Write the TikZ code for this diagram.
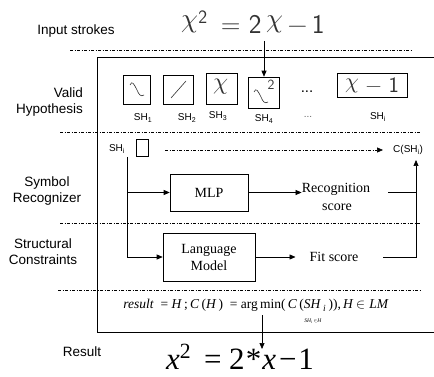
\documentclass[tikz,border=0pt]{standalone}
\usepackage{fontspec}
\usepackage{unicode-math}
\setmainfont{Liberation Serif}
\setsansfont{Liberation Sans}
\newfontfamily\handfont{Latin Modern Sans}
\newfontfamily\resfont{Liberation Serif}
\usetikzlibrary{arrows.meta}
\newcommand{\hchi}{\raisebox{0.19em}{$\chi$}}
\begin{document}
\begin{tikzpicture}[x=1pt,y=-1pt,
  dashdot/.style={line width=0.6pt, dash pattern=on 3pt off 1.5pt on 1pt off 1.5pt},
  arr/.style={-{Triangle[length=6pt,width=5pt]}},
  lbl/.style={font=\sffamily\fontsize{13.5}{16}\selectfont, align=center, inner sep=0pt},
  shlbl/.style={font=\sffamily\fontsize{10}{12}\selectfont, inner sep=0pt},
  shbox/.style={draw, line width=0.6pt, inner sep=0pt},
  hand/.style={text=black!80, inner sep=0pt},
  serifbox/.style={draw, line width=0.6pt, font=\fontsize{14}{17}\selectfont, align=center, inner sep=0pt},
  seriftxt/.style={font=\fontsize{14}{17}\selectfont, inner sep=0pt, align=center},
  stroke/.style={line width=0.6pt, black!80}
]
\useasboundingbox (0,0) rectangle (434,377);
\fill[white] (0,0) rectangle (434,377);

% main frame
\draw[line width=0.7pt] (434,57) -- (97,57) -- (97,332) -- (434,332);

% separators
\draw[dashdot] (70,50) -- (413,50);
\draw[dashdot] (60,132) -- (420,132);
\draw[dashdot] (60,223) -- (420,223);
\draw[dashdot] (58,290) -- (420,290);

% left labels
\node[lbl] (lin) at (76,31) {Input strokes};
\node[lbl, align=right, anchor=east] (lvh) at (83,102) {Valid\\Hypothesis};
\node[lbl] (lsr) at (47,191) {Symbol\\Recognizer};
\node[lbl] (lsc) at (43,252) {Structural\\Constraints};
\node[lbl] (lres) at (82,352) {Result};

% handwritten input
\node[hand, font=\handfont\fontsize{27}{30}\selectfont] (handin) at (253,22)
  {\hchi\textsuperscript{2}\ \,=\ 2\,\hchi\,−\,1};

% hypothesis boxes
\node[shbox, minimum width=27pt, minimum height=29pt] (b1) at (137,89.5) {};
\node[shbox, minimum width=30pt, minimum height=29pt] (b2) at (178,89.5) {};
\node[shbox, minimum width=31pt, minimum height=31pt] (b3) at (221.5,88.5) {};
\node[shbox, minimum width=31pt, minimum height=31pt] (b4) at (264,92.5) {};
\node[shbox, minimum width=70pt, minimum height=24pt] (b5) at (372,85) {};

% strokes inside boxes
\draw[stroke] (130,85) .. controls (132,80) and (134,84) .. (137,90) .. controls (139,95) and (141,97) .. (144,95);
\draw[stroke] (171,98) -- (186,81);
\node[hand, font=\handfont\fontsize{24}{26}\selectfont] (x3) at (221.5,87) {\hchi};
\draw[stroke] (254,92) .. controls (256,87) and (258,91) .. (261,97) .. controls (263,102) and (265,104) .. (268,102);
\node[hand, font=\handfont\fontsize{14}{15}\selectfont] (sq4) at (271,85) {2};
\node[hand, font=\handfont\fontsize{22}{24}\selectfont] (x5) at (372,85) {\hchi\ −\ 1};
\node[font=\sffamily\fontsize{15}{16}\selectfont, inner sep=0pt] (dots) at (307,92) {...};

% SH labels
\node[shlbl] (s1) at (143,118) {SH\textsubscript{1}};
\node[shlbl] (s2) at (187,118) {SH\textsubscript{2}};
\node[shlbl] (s3) at (218,116) {SH\textsubscript{3}};
\node[shlbl] (s4) at (264,119) {SH\textsubscript{4}};
\node[shlbl, text=black!60] (sdots) at (308,117) {...};
\node[shlbl] (si) at (378,117) {SH\textsubscript{i}};

% arrow from input to hypotheses
\coordinate (inarr) at (264,41);
\draw[arr, line width=0.7pt] (inarr) -- (b4.north);

% SH_i
\node[shlbl] (shi) at (117,149) {SH\textsubscript{i}};
\node[shbox, minimum width=12pt, minimum height=17pt] (sq) at (142,148) {};
\node[shlbl, anchor=west] (cshi) at (393,150) {C(SH\textsubscript{i})};
\coordinate (dstart) at (165,150);
\coordinate (dend) at (383,150);
\draw[dashdot, arr] (dstart) -- (dend);

% MLP and LM
\node[serifbox, minimum width=78pt, minimum height=37pt] (mlp) at (209,192.5) {MLP};
\node[serifbox, minimum width=92pt, minimum height=48pt] (lm) at (209,257) {Language\\Model};

\coordinate (vtop) at (127,157);
\draw[arr, line width=0.7pt] (vtop) |- (lm.west);
\draw[arr, line width=0.7pt] (vtop |- mlp.west) -- (mlp.west);

\node[seriftxt] (rec) at (336,189.5) {Recognition};
\node[seriftxt] (recs) at (337,207) {score};
\node[seriftxt] (fit) at (334,257) {Fit score};
\draw[arr, line width=0.7pt] (mlp.east) -- (rec.west |- mlp.east);
\draw[arr, line width=0.7pt] (lm.east) -- ([xshift=-14pt]fit.west);

\coordinate (rs) at (388,192.5);
\coordinate (fs) at (383,257);
\coordinate (cup) at (416,160);
\draw[line width=0.7pt] (rs) -- (rs -| cup);
\draw[arr, line width=0.7pt] (fs) -| (cup);

% result formula
\node[inner sep=0pt, font=\resfont\fontsize{13.5}{15}\selectfont] (form) at (256,305)
  {\textit{result}\ \ =\ \textit{H}\,;\,\textit{C}\,(\textit{H}\,)\ \ =\ arg\,min(\,\textit{C}\,(\textit{SH}\,\textsubscript{\textit{i}}\,)),\,\textit{H}\ $\in$\ \textit{LM}};
\node[inner sep=0pt, font=\resfont\fontsize{5.5}{6}\selectfont] (formsub) at (313,321) {\textit{SH\textsubscript{i}}\,$\in$\textit{H}};

\coordinate (farr) at (262,315);
\coordinate (ftip) at (262,349);
\node[inner sep=0pt, font=\resfont\fontsize{31}{36}\selectfont] (res) at (240,357)
  {\textit{x}\textsuperscript{2}\ \,=\ 2\kern1pt*\kern1pt\textit{x}\kern3pt−\kern2pt1};
\draw[arr, line width=0.7pt] (farr) -- (ftip);
\end{tikzpicture}
\end{document}
